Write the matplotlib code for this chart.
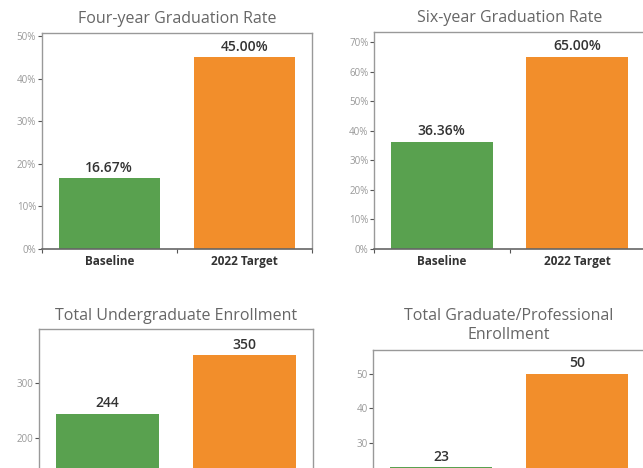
import numpy as np
import matplotlib.pyplot as plt

plt.rcParams['font.family'] = ['Open Sans', 'DejaVu Sans']

categories = ['Baseline', '2022 Target']
four_year = [16.67, 45.00]
six_year = [36.36, 65.00]
undergrad = [244, 350]
grad_prof = [23, 50]

titles = ['Four-year Graduation Rate', 'Six-year Graduation Rate',
          'Total Undergraduate Enrollment', 'Total Graduate/Professional\nEnrollment']

green = '#59A14F'
orange = '#F28E2B'

W, H = 643, 468
fig = plt.figure(figsize=(W / 100, H / 100), dpi=100)


def box(l, t, r, b):
    return [l / W, 1 - b / H, (r - l) / W, (b - t) / H]


def panel(rect, vals, title, ymax, yticks, fmt, lbl, tpad=6):
    ax = fig.add_axes(box(*rect))
    x = np.arange(len(vals))
    ax.bar(x, vals, width=0.75, color=[green, orange])
    ax.set_xlim(-0.5, 1.5)
    ax.set_ylim(0, ymax)
    ax.set_yticks(yticks)
    ax.set_yticklabels([fmt(v) for v in yticks], fontsize=7, color='#999999')
    ax.tick_params(axis='y', length=3, width=0.8, color='#555555', pad=1)
    ax.set_xticks(x)
    ax.set_xticklabels(categories, fontsize=8.5, fontweight='bold', color='#333333')
    ax.tick_params(axis='x', length=0, pad=4)
    ax.set_xticks([-0.5, 0.5, 1.5], minor=True)
    ax.tick_params(axis='x', which='minor', length=3, width=0.8, color='#555555')
    for s in ['top', 'right', 'left']:
        ax.spines[s].set_color('#999999')
        ax.spines[s].set_linewidth(1.0)
    ax.spines['bottom'].set_color('#666666')
    ax.spines['bottom'].set_linewidth(1.2)
    for xi, v in zip(x, vals):
        ax.annotate(lbl(v), (xi, v), xytext=(0, 2.5), textcoords='offset points',
                    ha='center', va='bottom', fontsize=10, fontweight='semibold',
                    color='#333333')
    ax.set_title(title, fontsize=11.5, color='#666666', pad=tpad, linespacing=1.2)
    return ax


pct = lambda v: '%d%%' % v
pct2 = lambda v: '%.2f%%' % v
num = lambda v: '%d' % v

panel((41.7, 33, 312, 249), four_year, titles[0], 50.7, [0, 10, 20, 30, 40, 50], pct, pct2, tpad=7.5)
panel((374, 32, 645, 249), six_year, titles[1], 73.4, [0, 10, 20, 30, 40, 50, 60, 70], pct, pct2, tpad=7.5)
panel((39, 329, 313, 548), undergrad, titles[2], 398, [0, 100, 200, 300], num, num, tpad=6.5)
panel((373.3, 350, 645, 546.5), grad_prof, titles[3], 56.9, [0, 10, 20, 30, 40, 50], num, num, tpad=8)

fig.savefig('out.png', dpi=100)
